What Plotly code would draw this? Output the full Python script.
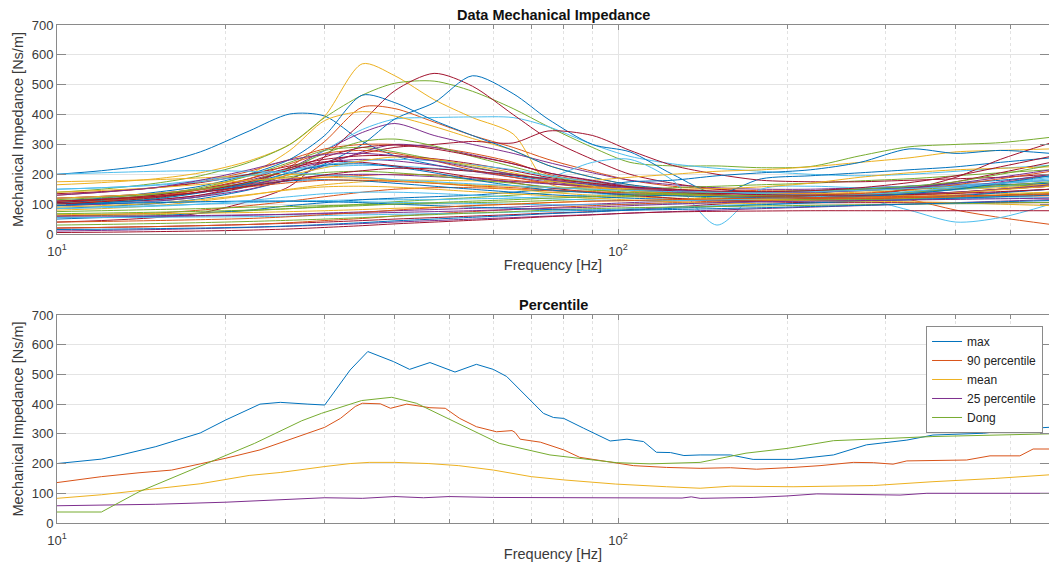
import math
import plotly.graph_objects as go

# ---------------------------------------------------------------------------
# Measured impedance curves, sampled on a common frequency grid [Hz]
# ---------------------------------------------------------------------------
FREQ = [10, 12, 15, 18, 22, 26, 30, 35, 40, 47, 55, 65, 75, 90, 105, 125,
        150, 180, 220, 270, 330, 400, 480, 590]

# Each batch holds 7 subjects (plotted in order, colours cycle per subject)
batch_1 = [
    [200, 212, 235, 275, 345, 402, 395, 310, 262, 232, 212, 195, 180, 165, 150, 140, 128, 125, 135, 150, 160, 170, 180, 195],
    [95, 100, 110, 125, 165, 225, 310, 425, 420, 375, 330, 290, 250, 210, 180, 160, 150, 145, 145, 150, 155, 160, 165, 170],
    [165, 172, 185, 205, 245, 300, 395, 570, 530, 450, 390, 335, 170, 150, 135, 120, 110, 112, 118, 125, 130, 140, 150, 160],
    [100, 105, 115, 130, 170, 220, 280, 340, 370, 330, 300, 270, 240, 205, 180, 165, 155, 150, 150, 155, 160, 165, 170, 180],
    [140, 150, 170, 195, 240, 300, 390, 465, 505, 512, 478, 420, 360, 290, 240, 228, 228, 222, 226, 262, 292, 300, 306, 324],
    [95, 100, 110, 125, 160, 210, 280, 350, 385, 390, 392, 390, 360, 300, 260, 235, 220, 210, 200, 195, 200, 210, 220, 230],
    [40, 45, 55, 70, 110, 160, 260, 375, 480, 538, 495, 400, 320, 250, 200, 170, 150, 140, 135, 130, 135, 140, 150, 160],
]
batch_2 = [
    [85, 92, 102, 118, 148, 185, 235, 300, 385, 440, 530, 470, 385, 300, 275, 200, 135, 185, 195, 205, 215, 225, 240, 255],
    [130, 140, 155, 175, 210, 250, 285, 300, 300, 290, 270, 240, 200, 175, 160, 150, 140, 135, 135, 135, 140, 150, 160, 170],
    [105, 112, 125, 150, 200, 280, 380, 410, 395, 360, 320, 280, 230, 190, 165, 150, 140, 135, 135, 140, 145, 150, 155, 165],
    [110, 118, 130, 150, 180, 215, 240, 250, 245, 230, 210, 190, 175, 160, 150, 140, 130, 125, 120, 120, 125, 130, 140, 150],
    [60, 62, 65, 70, 78, 85, 92, 100, 108, 115, 122, 130, 138, 145, 150, 155, 160, 165, 170, 178, 185, 195, 205, 215],
    [150, 155, 165, 180, 200, 215, 225, 230, 228, 220, 210, 200, 190, 240, 250, 180, 30, 150, 160, 155, 160, 165, 170, 180],
    [100, 105, 115, 130, 160, 200, 240, 270, 290, 300, 310, 305, 345, 330, 280, 230, 200, 180, 175, 175, 180, 185, 190, 200],
]
batch_3 = [
    [110, 120, 140, 160, 200, 250, 330, 465, 440, 380, 330, 280, 230, 190, 165, 150, 140, 140, 145, 150, 155, 160, 165, 170],
    [60, 65, 70, 80, 95, 110, 125, 140, 150, 155, 155, 150, 145, 140, 135, 130, 130, 130, 130, 128, 115, 80, 55, 32],
    [80, 85, 95, 110, 130, 150, 165, 175, 180, 180, 178, 175, 175, 180, 190, 200, 210, 215, 225, 240, 255, 275, 280, 285],
    [55, 56, 58, 60, 63, 66, 70, 74, 78, 82, 86, 90, 95, 100, 105, 110, 115, 120, 125, 130, 135, 140, 150, 160],
    [105, 115, 132, 155, 195, 240, 280, 290, 275, 250, 225, 200, 180, 160, 145, 130, 120, 115, 112, 112, 115, 120, 130, 140],
    [90, 92, 95, 100, 105, 110, 112, 115, 115, 115, 118, 120, 125, 130, 135, 140, 140, 135, 130, 120, 80, 40, 55, 100],
    [20, 22, 25, 28, 32, 36, 40, 45, 50, 55, 60, 65, 70, 75, 82, 90, 100, 110, 120, 130, 150, 190, 250, 305],
]
batch_4 = [
    [50, 55, 60, 70, 80, 95, 105, 115, 120, 125, 130, 140, 150, 160, 175, 180, 195, 205, 215, 240, 285, 270, 280, 270],
    [120, 126, 135, 148, 165, 180, 190, 196, 200, 198, 190, 180, 170, 158, 148, 138, 128, 122, 120, 125, 135, 150, 170, 200],
    [175, 178, 182, 188, 195, 200, 198, 190, 180, 170, 160, 150, 140, 130, 125, 120, 118, 115, 115, 120, 125, 130, 135, 140],
    [95, 100, 110, 125, 150, 185, 230, 275, 300, 290, 265, 235, 205, 180, 160, 145, 132, 125, 125, 130, 140, 155, 175, 200],
    [75, 78, 82, 85, 90, 92, 95, 98, 100, 102, 105, 108, 112, 118, 125, 130, 135, 138, 140, 145, 150, 155, 160, 165],
    [105, 106, 107, 108, 110, 110, 110, 108, 106, 104, 102, 100, 98, 98, 100, 102, 105, 108, 110, 112, 115, 118, 120, 122],
    [135, 142, 155, 172, 200, 228, 250, 262, 262, 252, 235, 212, 190, 170, 155, 142, 132, 126, 125, 130, 150, 175, 205, 240],
]
batch_5 = [
    [105, 112, 125, 140, 162, 178, 182, 178, 170, 160, 150, 140, 132, 125, 120, 116, 113, 112, 112, 115, 120, 128, 138, 150],
    [20, 22, 25, 28, 32, 38, 45, 52, 60, 68, 75, 82, 88, 95, 100, 105, 110, 112, 115, 118, 120, 122, 125, 128],
    [90, 95, 103, 115, 132, 148, 158, 160, 157, 150, 142, 135, 128, 120, 114, 108, 104, 102, 104, 110, 120, 135, 150, 168],
    [10, 12, 15, 18, 22, 26, 30, 35, 40, 45, 50, 55, 60, 65, 70, 75, 80, 85, 90, 95, 100, 105, 110, 115],
    [100, 108, 120, 140, 175, 220, 270, 310, 318, 295, 260, 225, 195, 168, 150, 135, 125, 118, 115, 115, 118, 122, 128, 135],
    [55, 55, 56, 57, 58, 60, 62, 64, 66, 68, 70, 73, 76, 80, 85, 90, 95, 100, 105, 110, 115, 120, 125, 130],
    [105, 115, 130, 150, 185, 222, 242, 240, 228, 210, 190, 172, 155, 140, 130, 120, 112, 108, 105, 105, 105, 105, 105, 105],
]
batch_6 = [
    [15, 16, 18, 20, 23, 27, 32, 38, 44, 50, 56, 62, 68, 74, 80, 86, 92, 98, 104, 110, 115, 120, 125, 130],
    [100, 110, 126, 148, 185, 235, 270, 280, 270, 245, 215, 190, 170, 155, 145, 135, 128, 122, 120, 120, 122, 125, 130, 135],
    [65, 66, 68, 70, 72, 75, 78, 82, 86, 90, 95, 100, 105, 110, 112, 115, 115, 115, 112, 110, 108, 105, 100, 95],
    [120, 126, 136, 150, 168, 185, 196, 200, 198, 192, 185, 176, 168, 160, 152, 145, 138, 132, 128, 128, 130, 138, 150, 165],
    [30, 32, 35, 38, 42, 46, 50, 55, 60, 65, 70, 75, 80, 85, 88, 90, 92, 94, 96, 98, 100, 102, 104, 106],
    [150, 155, 163, 175, 195, 215, 232, 245, 250, 245, 232, 215, 195, 175, 160, 148, 140, 134, 130, 132, 138, 148, 160, 175],
    [5, 6, 8, 10, 13, 17, 22, 28, 34, 40, 46, 52, 58, 64, 70, 74, 76, 77, 78, 78, 78, 78, 78, 78],
]
batch_7 = [
    [100, 102, 105, 108, 110, 110, 108, 105, 100, 95, 90, 86, 82, 80, 80, 82, 85, 88, 92, 96, 100, 104, 108, 112],
    [110, 116, 126, 140, 158, 172, 180, 180, 176, 170, 162, 155, 148, 142, 138, 134, 130, 128, 130, 136, 148, 165, 185, 210],
    [120, 126, 136, 150, 172, 198, 222, 245, 258, 250, 230, 205, 180, 160, 145, 134, 126, 122, 122, 125, 130, 138, 148, 160],
    [60, 60, 61, 62, 64, 66, 68, 70, 72, 75, 78, 82, 86, 90, 95, 100, 105, 108, 110, 112, 114, 116, 118, 120],
    [115, 122, 134, 150, 172, 192, 206, 210, 205, 195, 182, 170, 158, 148, 140, 134, 130, 128, 128, 132, 140, 150, 162, 175],
    [85, 88, 93, 100, 112, 125, 135, 140, 140, 136, 130, 124, 118, 114, 112, 112, 114, 118, 124, 132, 142, 155, 170, 190],
    [100, 108, 122, 142, 175, 215, 258, 290, 298, 285, 262, 235, 205, 178, 158, 145, 136, 132, 130, 130, 132, 136, 142, 150],
]
batch_8 = [
    [95, 104, 118, 138, 170, 205, 230, 235, 225, 205, 182, 162, 148, 138, 132, 128, 125, 122, 122, 126, 135, 150, 170, 195],
    [40, 42, 45, 48, 52, 58, 65, 72, 80, 88, 95, 100, 105, 110, 112, 115, 118, 120, 122, 124, 126, 128, 130, 132],
    [140, 146, 155, 166, 180, 188, 190, 186, 180, 172, 165, 160, 156, 154, 152, 150, 152, 158, 170, 190, 205, 215, 220, 225],
    [130, 140, 156, 180, 215, 248, 266, 270, 262, 245, 222, 200, 182, 166, 155, 148, 142, 140, 140, 145, 155, 170, 190, 215],
    [68, 70, 73, 76, 80, 85, 90, 95, 100, 105, 110, 115, 120, 125, 130, 135, 140, 142, 145, 150, 160, 175, 200, 230],
    [200, 205, 210, 212, 210, 205, 198, 190, 182, 175, 168, 162, 156, 150, 146, 142, 140, 140, 142, 146, 152, 160, 170, 185],
    [110, 116, 126, 140, 160, 180, 198, 212, 220, 218, 210, 198, 185, 170, 158, 150, 144, 142, 145, 155, 172, 195, 225, 260],
]

# ---------------------------------------------------------------------------
# Summary statistics (frequency [Hz], impedance [Ns/m])
# ---------------------------------------------------------------------------
max_f = [10, 12, 13, 15, 18, 20, 23, 25, 28, 30, 33.3, 35.8, 39.8, 42.5, 46.2, 51.2, 55.9,
         59.9, 63.3, 69.6, 73.6, 76.7, 80, 86.8, 96.8, 103.7, 111, 117, 124, 131, 140,
         158.6, 174, 205, 242, 277, 327, 364, 448, 514, 586]
max_v = [200, 215, 229, 257, 303, 347, 400, 406, 400, 397, 515, 577, 543, 517, 540, 508, 534,
         517, 493, 414, 369, 355, 352, 319, 276, 282, 274, 238, 237, 227, 229,
         229, 214, 214, 229, 263, 279, 296, 302, 316, 322]

p90_f = [10, 12, 14, 16, 18, 20, 23, 26, 29, 30, 32, 34, 35, 37.7, 39.3, 42, 46.2, 49.2,
         52.2, 55.9, 60.7, 64.7, 65.5, 66.9, 72.7, 80, 85.4, 99.4, 106.5, 122, 140,
         158.6, 176.5, 205, 229, 262.5, 285, 309, 327, 418, 460, 520, 549, 586]
p90_v = [136, 156, 169, 178, 199, 218, 246, 282, 313, 322, 352, 392, 403, 401, 386, 400, 388, 386,
         352, 324, 307, 311, 305, 282, 272, 246, 221, 203, 193, 187, 184,
         186, 181, 187, 193, 204, 203, 198, 209, 212, 226, 226, 249, 249]

mean_f = [10, 12, 14.6, 18, 22, 25, 30, 33.3, 36, 40, 46, 52, 60, 70, 80, 99, 122, 140,
          159, 205, 285, 364, 470, 549, 586]
mean_v = [83, 95, 113, 132, 160, 170, 190, 200, 204, 204, 200, 193, 178, 156, 145, 131, 122, 117,
          124, 122, 126, 139, 150, 159, 162]

p25_f = [10, 15, 20, 25, 30, 35, 40, 45, 50, 60, 80, 100, 120, 130, 135, 140, 174, 200,
         226, 318, 355, 586]
p25_v = [58, 63, 70, 77, 85, 83, 89, 85, 89, 86, 86, 86, 86, 84, 88, 83, 86, 91,
         98, 94, 100, 100]

dong_f = [10, 12, 14, 18.4, 22.5, 27.3, 29.6, 34.9, 39.5, 43.7, 50.2, 61.4, 75.6, 99.4,
          114, 140, 169, 200, 242, 297, 364, 586]
dong_v = [37, 37, 105, 199, 268, 344, 369, 412, 423, 403, 347, 268, 229, 203,
          199, 204, 235, 251, 277, 285, 291, 300]

# ---------------------------------------------------------------------------
PALETTE = ["#0072BD", "#D95319", "#EDB120", "#7E2F8E", "#77AC30", "#4DBEEE", "#A2142F"]
FONT = "Liberation Sans, Arial, Helvetica, sans-serif"
AXIS_GREY = "#8a8a8a"
TEXT_GREY = "#3a3a3a"

fig = go.Figure()

subjects = batch_1 + batch_2 + batch_3 + batch_4 + batch_5 + batch_6 + batch_7 + batch_8
for i, z in enumerate(subjects):
    fig.add_trace(go.Scatter(
        x=FREQ, y=z, mode="lines", xaxis="x", yaxis="y", showlegend=False,
        line=dict(color=PALETTE[i % 7], width=1, shape="spline", smoothing=0.8),
        hoverinfo="skip",
    ))

summary = [
    ("max", max_f, max_v),
    ("90 percentile", p90_f, p90_v),
    ("mean", mean_f, mean_v),
    ("25 percentile", p25_f, p25_v),
    ("Dong", dong_f, dong_v),
]
for k, (name, f, v) in enumerate(summary):
    fig.add_trace(go.Scatter(
        x=f, y=v, mode="lines", name=name, xaxis="x2", yaxis="y2",
        line=dict(color=PALETTE[k], width=1),
    ))

x_max = 586
minor_vals = [20, 30, 40, 50, 60, 70, 80, 90, 200, 300, 400, 500]


def x_axis(domain_anchor):
    return dict(
        type="log", range=[1, math.log10(x_max)], anchor=domain_anchor,
        showline=True, linecolor=AXIS_GREY, linewidth=1, mirror="ticks",
        ticks="inside", ticklen=5, tickcolor=AXIS_GREY,
        tickmode="array", tickvals=[10, 100],
        ticktext=["10<sup>1</sup>", "10<sup>2</sup>"],
        tickfont=dict(family=FONT, size=13, color=TEXT_GREY),
        ticklabelstandoff=5,
        showgrid=True, gridcolor="#e4e4e4", gridwidth=1, zeroline=False,
        minor=dict(tickmode="array", tickvals=minor_vals, ticks="inside", ticklen=4,
                   tickcolor=AXIS_GREY, showgrid=True, gridcolor="#e2e2e2",
                   griddash="dot", gridwidth=1),
        title=dict(text="Frequency [Hz]", font=dict(family=FONT, size=14.5, color=TEXT_GREY),
                   standoff=2),
    )


def y_axis(domain, anchor):
    return dict(
        domain=domain, anchor=anchor, range=[0, 700],
        tickmode="array", tickvals=[0, 100, 200, 300, 400, 500, 600, 700],
        showline=True, linecolor=AXIS_GREY, linewidth=1, mirror="ticks",
        ticks="inside", ticklen=9, tickcolor=AXIS_GREY,
        tickfont=dict(family=FONT, size=13, color=TEXT_GREY),
        showgrid=True, gridcolor="#e4e4e4", gridwidth=1, zeroline=False,
        title=dict(text="Mechanical Impedance [Ns/m]",
                   font=dict(family=FONT, size=14.5, color=TEXT_GREY), standoff=4),
    )


fig.update_layout(
    width=1049, height=574,
    margin=dict(l=57, r=0, t=25, b=51),
    paper_bgcolor="white", plot_bgcolor="white",
    xaxis=x_axis("y"),
    yaxis=y_axis([0.5803, 1.0], "x"),
    xaxis2=x_axis("y2"),
    yaxis2=y_axis([0.0, 0.4177], "x2"),
    showlegend=True,
    legend=dict(
        x=0.994, xanchor="right", y=0.3956, yanchor="top",
        bgcolor="white", bordercolor=AXIS_GREY, borderwidth=1,
        font=dict(family=FONT, size=12, color="#222222"),
        tracegroupgap=0,
    ),
    annotations=[
        dict(text="<b>Data Mechanical Impedance</b>", xref="paper", yref="paper",
             x=0.5, y=1.0201, xanchor="center", yanchor="middle", showarrow=False,
             font=dict(family=FONT, size=14.5, color="#111111")),
        dict(text="<b>Percentile</b>", xref="paper", yref="paper",
             x=0.5, y=0.4378, xanchor="center", yanchor="middle", showarrow=False,
             font=dict(family=FONT, size=14.5, color="#111111")),
    ],
)

fig.write_html("out.html")
